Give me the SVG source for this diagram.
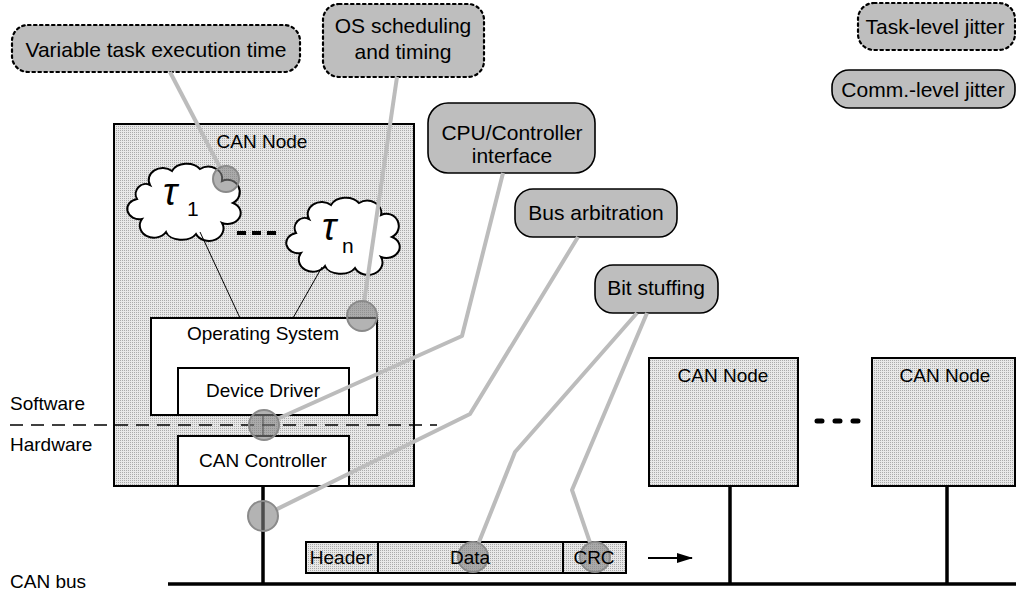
<svg xmlns="http://www.w3.org/2000/svg" width="1016" height="595" viewBox="0 0 1016 595">
  <style>
    text { font-family: "Liberation Sans", Arial, sans-serif; fill: #000; }
    .lbl { font-size: 19px; }
    .call { font-size: 21px; text-anchor: middle; }
    .mid { text-anchor: middle; }
    .node { fill: url(#stipple); stroke: #000; stroke-width: 2; }
    .box { fill: #fff; stroke: #000; stroke-width: 2; }
    .bubble { fill: #bebebe; stroke: #000; stroke-width: 1.6; }
    .dotted { stroke-dasharray: 2.5 3.5; stroke-width: 2.2; stroke-linecap: round; }
    .lead { fill: none; stroke: #bcbcbc; stroke-width: 4; stroke-linejoin: round; }
    .probe { fill: #808080; fill-opacity: 0.6; stroke: #8a8a8a; stroke-width: 2; }
    .wire { stroke: #000; stroke-width: 3.5; fill: none; }
    .cloud { fill: #fff; stroke: #000; stroke-width: 2; }
  </style>
  <defs>
    <pattern id="stipple" width="2" height="2" patternUnits="userSpaceOnUse">
      <rect width="2" height="2" fill="#e8e8e8"/>
      <rect width="1" height="1" fill="#aaaaaa"/>
    </pattern>
    <path id="cloud" d="M20 22 A14 12 0 0 1 42 8 A16 12 0 0 1 70 6 A14 12 0 0 1 92 18 A12 12 0 0 1 103 40 A12 10 0 0 1 92 60 A14 12 0 0 1 66 71 A16 10 0 0 1 36 69 A14 12 0 0 1 12 56 A12 10 0 0 1 7 36 A10 10 0 0 1 20 22 Z"/>
    <marker id="arrow" viewBox="0 0 16 10" refX="15" refY="5" markerWidth="16" markerHeight="10" markerUnits="userSpaceOnUse" orient="auto">
      <path d="M0 0 L16 5 L0 10 Z" fill="#000"/>
    </marker>
  </defs>

  <rect width="1016" height="595" fill="#fff"/>

  <!-- layer labels -->
  <g id="layer-labels">
    <text class="lbl" x="10" y="410">Software</text>
    <text class="lbl" x="10" y="451">Hardware</text>
    <text class="lbl" x="10" y="588">CAN bus</text>
  </g>

  <!-- bus wiring -->
  <g id="bus">
    <line class="wire" x1="168" y1="584" x2="1016" y2="584" stroke-width="4"/>
    <line class="wire" x1="263" y1="486" x2="263" y2="584"/>
    <line class="wire" x1="730" y1="486" x2="730" y2="584"/>
    <line class="wire" x1="947" y1="486" x2="947" y2="584"/>
  </g>

  <!-- main CAN node -->
  <g id="can-node-main">
    <rect class="node" x="114" y="124" width="300" height="362"/>
    <text class="lbl mid" x="262" y="148">CAN Node</text>
  </g>

  <g id="task-1">
    <use href="#cloud" class="cloud" transform="translate(130,163)"/>
    <text x="163" y="205" font-family="Liberation Serif, serif" font-style="italic" font-size="38">τ</text>
    <text x="187" y="216" font-size="21">1</text>
  </g>

  <g id="task-n">
    <use href="#cloud" class="cloud" transform="translate(289,197)"/>
    <text x="322" y="240" font-family="Liberation Serif, serif" font-style="italic" font-size="38">τ</text>
    <text x="342" y="253" font-size="21">n</text>
  </g>

  <g id="task-ellipsis">
    <line x1="237" y1="233" x2="281" y2="233" stroke="#000" stroke-width="4" stroke-dasharray="9 6"/>
  </g>

  <g id="operating-system">
    <rect class="box" x="151" y="318" width="226" height="97"/>
    <text class="lbl mid" x="263" y="340">Operating System</text>
  </g>

  <g id="device-driver">
    <rect class="box" x="178" y="368" width="171" height="47"/>
    <text class="lbl mid" x="263" y="397">Device Driver</text>
  </g>

  <g id="can-controller">
    <rect class="box" x="178" y="436" width="171" height="50"/>
    <text class="lbl mid" x="263" y="467">CAN Controller</text>
  </g>

  <!-- task to OS links -->
  <g id="task-links" stroke="#000" stroke-width="1">
    <line x1="200" y1="232" x2="240" y2="318"/>
    <line x1="322" y1="267" x2="293" y2="318"/>
    <line x1="263" y1="415" x2="263" y2="436"/>
  </g>

  <!-- software / hardware boundary -->
  <line id="sw-hw-boundary" x1="10" y1="425" x2="437" y2="425" stroke="#000" stroke-width="1.5" stroke-dasharray="13 8"/>

  <!-- other CAN nodes -->
  <g id="can-node-2">
    <rect class="node" x="649" y="358" width="149" height="128"/>
    <text class="lbl mid" x="723" y="382">CAN Node</text>
  </g>
  <g id="can-node-n">
    <rect class="node" x="872" y="358" width="143" height="128"/>
    <text class="lbl mid" x="945" y="382">CAN Node</text>
  </g>
  <g id="node-ellipsis">
    <line x1="817" y1="421" x2="858" y2="421" stroke="#000" stroke-width="5" stroke-dasharray="5 13" stroke-linecap="round"/>
  </g>

  <!-- frame on the bus -->
  <g id="frame">
    <rect class="node" x="306" y="542" width="320" height="31"/>
    <line x1="378" y1="542" x2="378" y2="573" stroke="#000" stroke-width="2"/>
    <line x1="563" y1="542" x2="563" y2="573" stroke="#000" stroke-width="2"/>
  </g>
  <line id="frame-direction" x1="648" y1="558" x2="692" y2="558" stroke="#000" stroke-width="2" marker-end="url(#arrow)"/>

  <!-- jitter source callouts -->
  <g id="callout-exec-time">
    <rect class="bubble dotted" x="12" y="25" width="288" height="47" rx="16"/>
    <text class="call" x="156" y="57">Variable task execution time</text>
  </g>
  <g id="callout-os-sched">
    <rect class="bubble dotted" x="323" y="4" width="161" height="73" rx="16"/>
    <text class="call" x="403" y="33">OS scheduling</text>
    <text class="call" x="403" y="59">and timing</text>
  </g>
  <g id="callout-cpu-if">
    <rect class="bubble" x="428" y="103" width="167" height="70" rx="20"/>
    <text class="call" x="512" y="140">CPU/Controller</text>
    <text class="call" x="512" y="163">interface</text>
  </g>
  <g id="callout-arbitration">
    <rect class="bubble" x="515" y="189" width="162" height="48" rx="18"/>
    <text class="call" x="596" y="220">Bus arbitration</text>
  </g>
  <g id="callout-bit-stuffing">
    <rect class="bubble" x="595" y="265" width="123" height="48" rx="18"/>
    <text class="call" x="656" y="295">Bit stuffing</text>
  </g>

  <!-- legend -->
  <g id="legend-task">
    <rect class="bubble dotted" x="858" y="3" width="157" height="47" rx="16"/>
    <text class="call" x="935" y="34">Task-level jitter</text>
  </g>
  <g id="legend-comm">
    <rect class="bubble" x="832" y="70" width="183" height="38" rx="17"/>
    <text class="call" x="923" y="97">Comm.-level jitter</text>
  </g>

  <!-- leader lines from callouts to probe points -->
  <g id="connectors">
    <polyline class="lead" points="170,72 220,167.5"/>
    <polyline class="lead" points="397,77 364.2,301.1"/>
    <polyline class="lead" points="503,173 462,336 277.7,418.8"/>
    <polyline class="lead" points="578,237 470,414 276.5,509.4"/>
    <polyline class="lead" points="637,313 515,452 478.6,543.1"/>
    <polyline class="lead" points="647,313 572,490 590.1,542.8"/>
  </g>

  <!-- probe points -->
  <g id="probes">
    <circle class="probe" cx="226" cy="179" r="13"/>
    <circle class="probe" cx="362" cy="316" r="15"/>
    <circle class="probe" cx="264" cy="425" r="15"/>
    <circle class="probe" cx="263" cy="516" r="15"/>
    <circle class="probe" cx="473" cy="557" r="15"/>
    <circle class="probe" cx="595" cy="557" r="15"/>
  </g>

  <!-- frame field labels -->
  <g id="frame-labels">
    <text class="lbl mid" x="341" y="564">Header</text>
    <text class="lbl mid" x="470" y="564">Data</text>
    <text class="lbl mid" x="594" y="564">CRC</text>
  </g>
</svg>
